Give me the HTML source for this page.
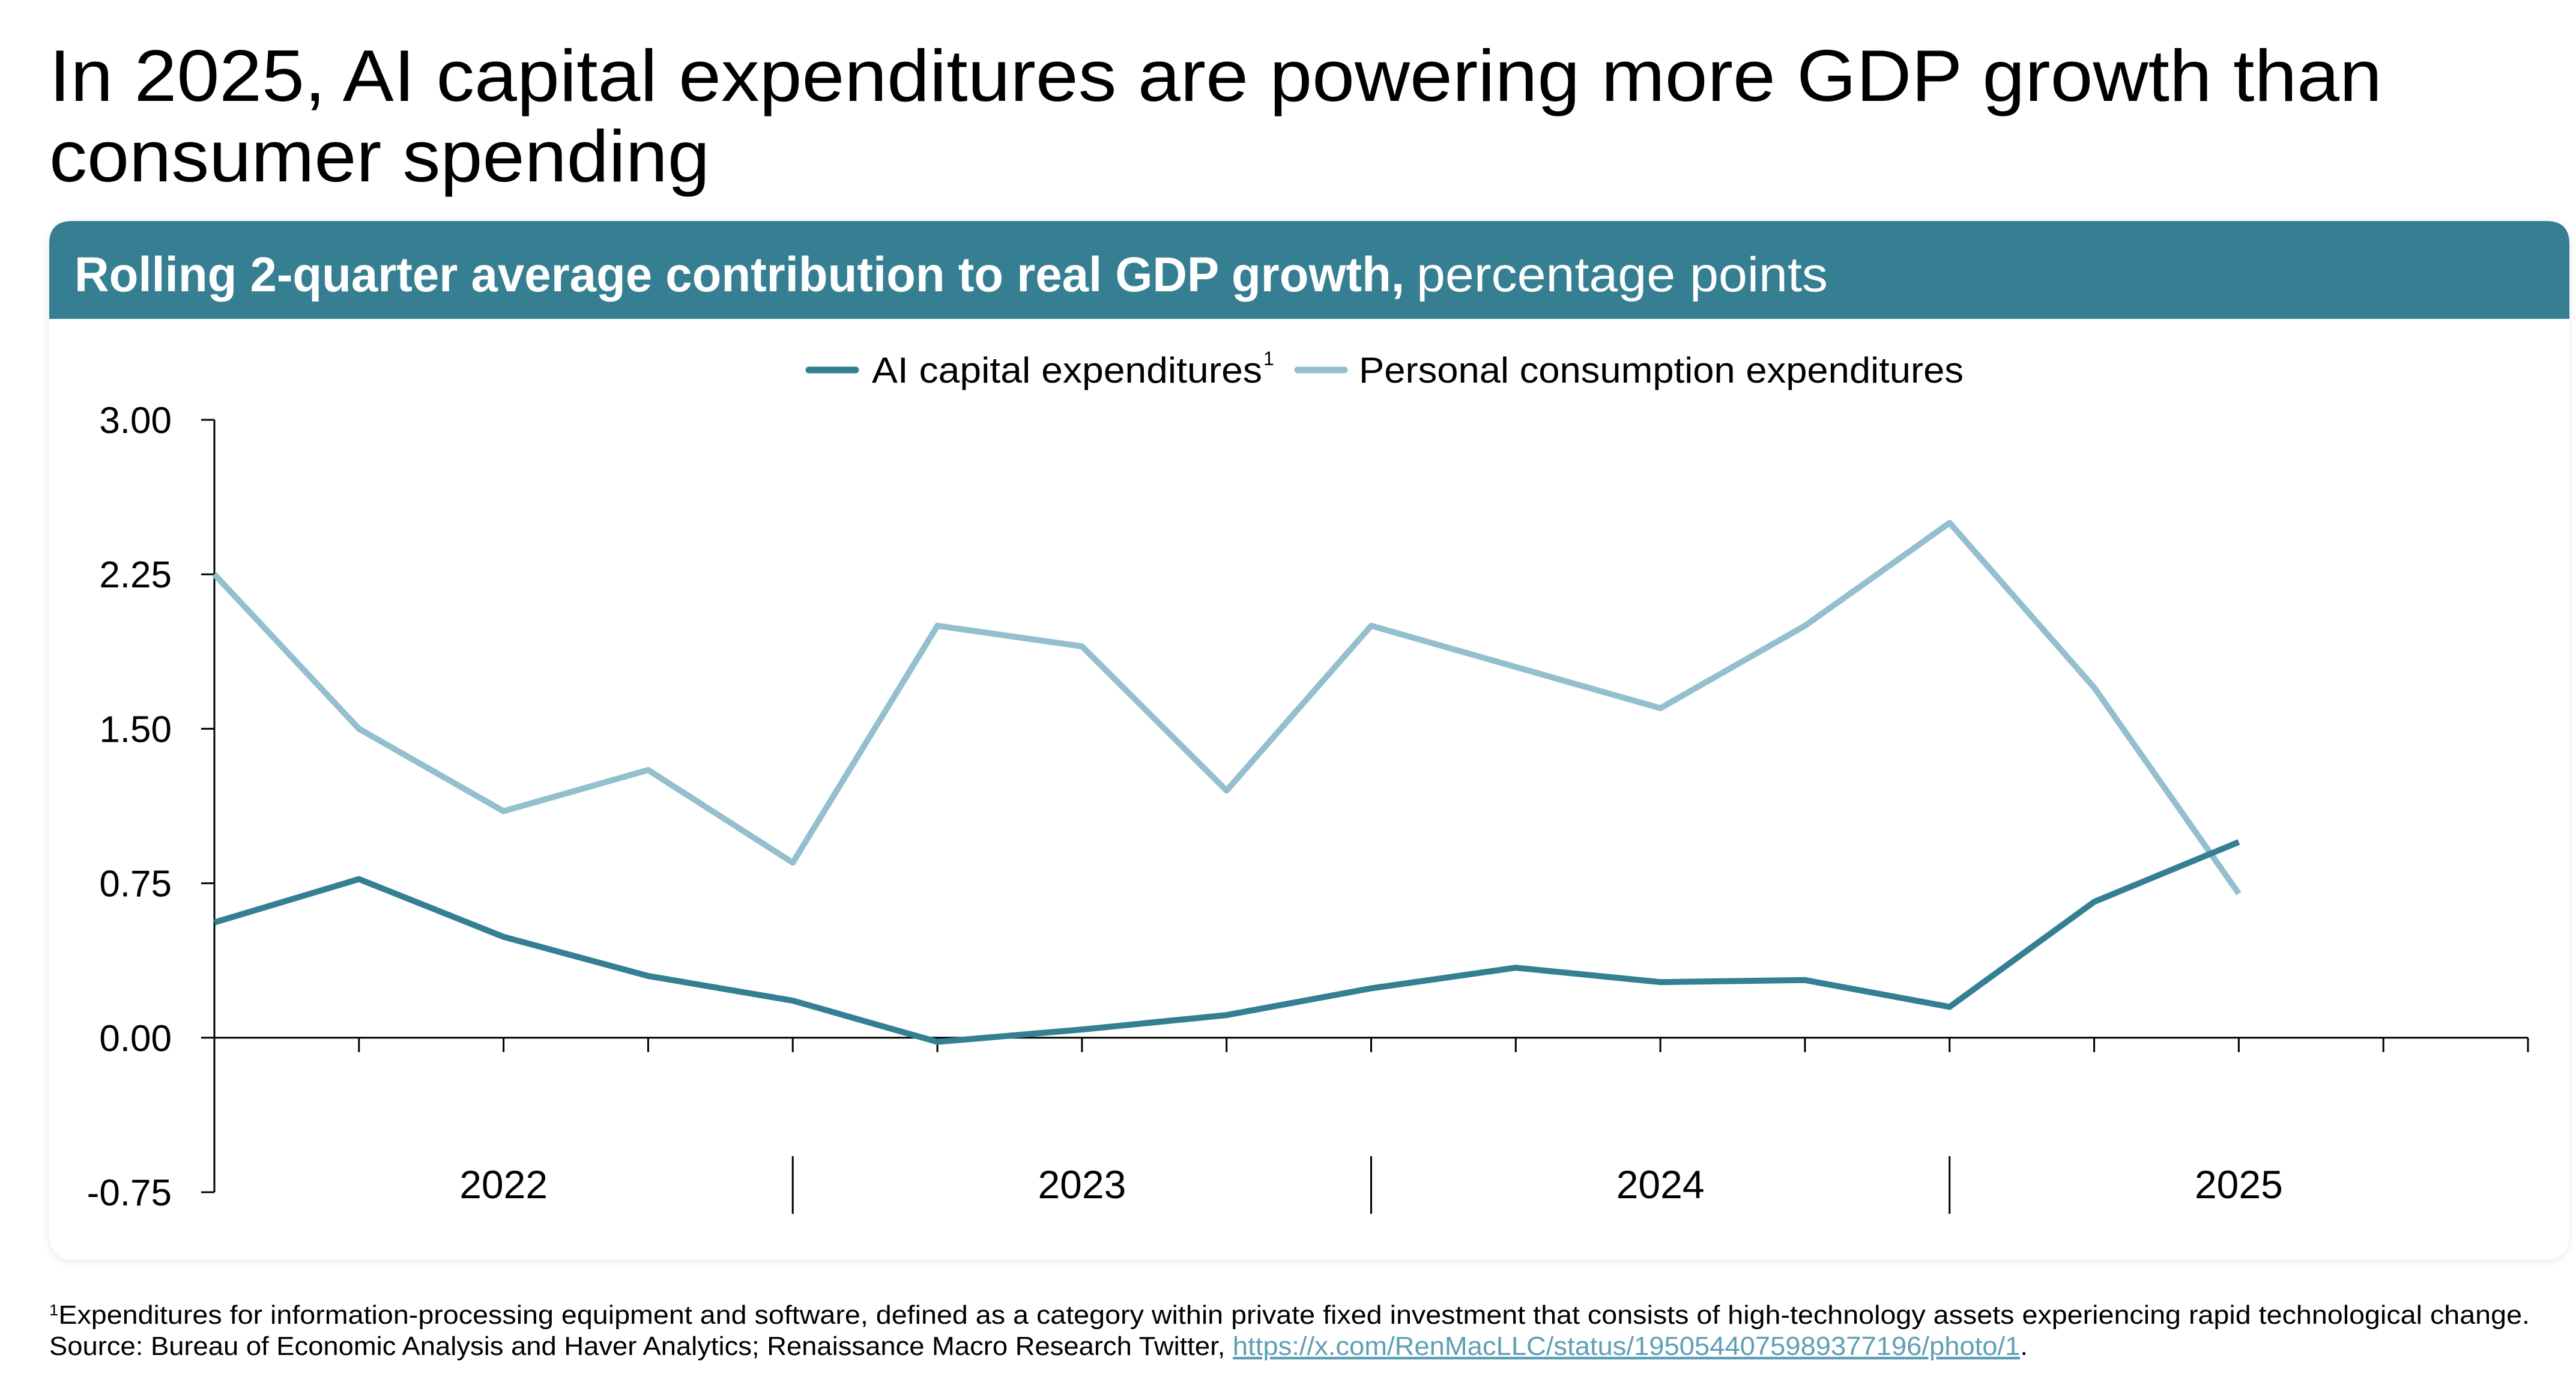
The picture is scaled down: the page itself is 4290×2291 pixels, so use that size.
<!DOCTYPE html>
<html><head><meta charset="utf-8"><style>
html,body{margin:0;padding:0;background:#fff;}
svg{display:block;font-family:"Liberation Sans",sans-serif;}
</style></head><body>
<svg id="chart" width="4290" height="2291" viewBox="0 0 4290 2291">
<defs><filter id="sh" x="-2%" y="-2%" width="104%" height="104%"><feDropShadow dx="0" dy="2" stdDeviation="6" flood-color="#000" flood-opacity="0.10"/></filter></defs>
<text x="82" y="168" font-size="122" fill="#000" textLength="3885" lengthAdjust="spacingAndGlyphs">In 2025, AI capital expenditures are powering more GDP growth than</text>
<text x="82" y="302" font-size="122" fill="#000" textLength="1100" lengthAdjust="spacingAndGlyphs">consumer spending</text>
<g>
<rect x="82" y="368" width="4197" height="1730" rx="38" fill="#fff" filter="url(#sh)"/>
<path d="M82,531 V406 Q82,368 120,368 H4241 Q4279,368 4279,406 V531 Z" fill="#367f93"/>
<text x="124" y="485" font-size="82" fill="#fff"><tspan font-weight="bold" textLength="2215" lengthAdjust="spacingAndGlyphs">Rolling 2-quarter average contribution to real GDP growth,</tspan><tspan dx="20" textLength="685" lengthAdjust="spacingAndGlyphs">percentage points</tspan></text>
</g>
<g>
<line x1="1347" y1="616" x2="1425" y2="616" stroke="#347f93" stroke-width="11" stroke-linecap="round"/>
<text x="1452" y="637" font-size="60" textLength="650" lengthAdjust="spacingAndGlyphs">AI capital expenditures</text>
<text x="2104" y="608" font-size="32">1</text>
<line x1="2161" y1="616" x2="2239" y2="616" stroke="#93bfcf" stroke-width="11" stroke-linecap="round"/>
<text x="2263" y="637" font-size="60" textLength="1007" lengthAdjust="spacingAndGlyphs">Personal consumption expenditures</text>
</g>
<g id="plot"></g>
<text x="82" y="2204" font-size="44" textLength="4131" lengthAdjust="spacingAndGlyphs"><tspan font-size="26" dy="-14">1</tspan><tspan dy="14">Expenditures for information-processing equipment and software, defined as a category within private fixed investment that consists of high-technology assets experiencing rapid technological change.</tspan></text>
<text x="82" y="2256" font-size="44" textLength="3295" lengthAdjust="spacingAndGlyphs">Source: Bureau of Economic Analysis and Haver Analytics; Renaissance Macro Research Twitter, <tspan fill="#5f9fb5" text-decoration="underline">https://x.com/RenMacLLC/status/1950544075989377196/photo/1</tspan>.</text>
</svg>
<script>
const quarters = ["2022Q1","2022Q2","2022Q3","2022Q4","2023Q1","2023Q2","2023Q3","2023Q4","2024Q1","2024Q2","2024Q3","2024Q4","2025Q1","2025Q2","2025Q3"];
const aiCapex = [0.56,0.77,0.49,0.30,0.18,-0.02,0.04,0.11,0.24,0.34,0.27,0.28,0.15,0.66,0.95];
const pce = [2.25,1.50,1.10,1.30,0.85,2.00,1.90,1.20,2.00,1.80,1.60,2.00,2.50,1.70,0.70];
const yTicks = [3.00,2.25,1.50,0.75,0.00,-0.75];
const yTickLabels = ["3.00","2.25","1.50","0.75","0.00","-0.75"];
const years = ["2022","2023","2024","2025"];

const NS="http://www.w3.org/2000/svg";
const plot=document.getElementById('plot');
const X0=357, X1=4210, NQ=16;
const Y_TOP=699, Y_BOT=1985, VMAX=3, VMIN=-0.75;
const step=(X1-X0)/NQ;
function xS(i){return X0+i*step;}
function yS(v){return Y_TOP+(VMAX-v)/(VMAX-VMIN)*(Y_BOT-Y_TOP);}
function mk(tag,attrs){const e=document.createElementNS(NS,tag);for(const k in attrs)e.setAttribute(k,attrs[k]);plot.appendChild(e);return e;}

let yax=mk('line',{x1:X0,y1:Y_TOP,x2:X0,y2:Y_BOT,stroke:'#000','stroke-width':3});


yTicks.forEach((v,i)=>{
  let t=mk('line',{x1:X0-22,y1:yS(v),x2:X0,y2:yS(v),stroke:'#000','stroke-width':3});
  
  
  let l=mk('text',{x:286,y:yS(v)+22,'font-size':62,'text-anchor':'end'});
  l.textContent=yTickLabels[i];
  
  
});
let xax=mk('line',{x1:X0,y1:yS(0),x2:X1,y2:yS(0),stroke:'#000','stroke-width':3});


for(let i=1;i<=NQ;i++){
  let t=mk('line',{x1:xS(i),y1:yS(0),x2:xS(i),y2:yS(0)+24,stroke:'#000','stroke-width':3});
  
  
}
years.forEach((y,k)=>{
  if(k>0){
    let s=mk('line',{x1:xS(k*4),y1:1925,x2:xS(k*4),y2:2021,stroke:'#000','stroke-width':3});
    
    
  }
  let l=mk('text',{x:xS(k*4+2),y:1995,'font-size':66,'text-anchor':'middle'});
  l.textContent=y;
  
  
});
function line(data,color,name){
  const d=data.map((v,i)=>(i?'L':'M')+xS(i).toFixed(1)+','+yS(v).toFixed(1)).join(' ');
  let p=mk('path',{d:d,fill:'none',stroke:color,'stroke-width':10,'stroke-linejoin':'round'});
  
  
}
line(pce,'#93bfcf','pce-line');
line(aiCapex,'#347f93','ai-capex-line');
</script>
</body></html>
